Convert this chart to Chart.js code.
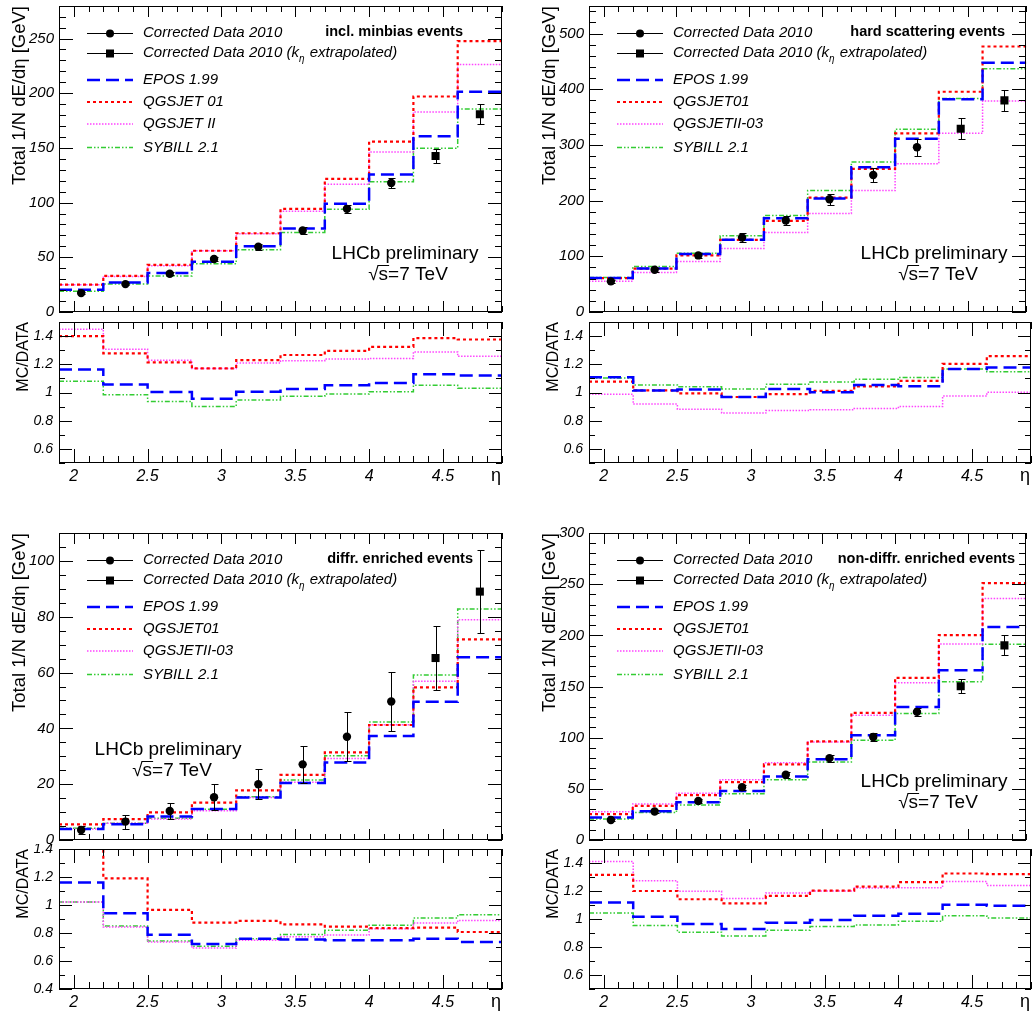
<!DOCTYPE html>
<html>
<head>
<meta charset="utf-8">
<title>LHCb energy flow vs eta</title>
<script src="https://cdn.jsdelivr.net/npm/chart.js@4.4.1/dist/chart.umd.min.js"></script>
<style>
  body { margin: 0; background: #fff; }
  #wrap { position: relative; width: 1032px; height: 1014px; overflow: hidden; }
  #wrap canvas { position: absolute; }
</style>
</head>
<body>
<div id="wrap"></div>
<script>
/* ============================================
   Energy flow per eta bin, 4 event classes,
   each with an MC/DATA ratio pad underneath.
   ============================================ */

// ---- binning / axis ticks ----
const binEdges   = [1.9, 2.2, 2.5, 2.8, 3.1, 3.4, 3.7, 4.0, 4.3, 4.6, 4.9];
const binCenters = [2.05, 2.35, 2.65, 2.95, 3.25, 3.55, 3.85, 4.15, 4.45, 4.75];
const etaTicks   = [2, 2.5, 3, 3.5, 4, 4.5];
const extrapolatedFrom = 4.3; // points above this eta are k_eta extrapolated

const minbiasTicks  = [0, 50, 100, 150, 200, 250];
const hardTicks     = [0, 100, 200, 300, 400, 500];
const diffrTicks    = [0, 20, 40, 60, 80, 100];
const nondiffrTicks = [0, 50, 100, 150, 200, 250, 300];
const ratioTicks      = [0.6, 0.8, 1, 1.2, 1.4];
const diffrRatioTicks = [0.4, 0.6, 0.8, 1, 1.2, 1.4];

// ---- incl. minbias ----
const minbiasData   = [17.3, 25.5, 35.0, 48.4, 59.6, 74.5, 94.3, 118.0, 142.6, 180.7];
const minbiasErr    = [1.0, 1.2, 1.5, 2.0, 2.5, 3.0, 3.5, 4.3, 6.0, 9.0];
const minbiasEpos   = [20.4, 27.0, 35.6, 46.0, 60.0, 76.3, 99.0, 125.6, 160.6, 201.3];
const minbiasQgs01  = [25.0, 33.0, 43.0, 56.0, 72.0, 94.3, 121.7, 155.7, 197.0, 247.6];
const minbiasQgs2   = [25.0, 32.5, 42.3, 56.0, 71.5, 92.0, 116.8, 146.3, 182.8, 226.3];
const minbiasSybill = [18.9, 25.5, 33.0, 44.0, 57.0, 72.7, 94.0, 119.0, 149.6, 185.5];
const minbiasRatioEpos   = [1.164, 1.056, 1.004, 0.956, 1.006, 1.025, 1.051, 1.068, 1.130, 1.120];
const minbiasRatioQgs01  = [1.400, 1.278, 1.214, 1.171, 1.230, 1.266, 1.295, 1.324, 1.386, 1.376];
const minbiasRatioQgs2   = [1.448, 1.307, 1.228, 1.171, 1.209, 1.226, 1.238, 1.242, 1.288, 1.257];
const minbiasRatioSybill = [1.080, 0.984, 0.937, 0.901, 0.946, 0.973, 0.989, 1.006, 1.051, 1.030];

// ---- hard scattering ----
const hardData   = [55.0, 75.9, 101.6, 133.8, 164.3, 202.5, 246.0, 295.7, 329.0, 380.0];
const hardErr    = [3, 4, 5, 8, 8, 10, 12, 15, 19, 19];
const hardEpos   = [61.0, 78.0, 104.0, 129.6, 168.5, 203.7, 259.9, 311.0, 382.0, 447.4];
const hardQgs01  = [61.0, 78.0, 101.6, 129.6, 163.7, 205.5, 257.0, 320.8, 395.5, 476.7];
const hardQgs2   = [55.0, 71.0, 90.8, 114.0, 142.8, 176.8, 218.0, 266.4, 320.8, 378.7];
const hardSybill = [62.0, 81.8, 105.7, 136.8, 173.2, 218.0, 269.4, 328.0, 383.5, 436.7];
const hardRatioEpos   = [1.108, 1.015, 1.022, 0.968, 1.025, 1.001, 1.053, 1.044, 1.167, 1.177];
const hardRatioQgs01  = [1.077, 1.015, 0.994, 0.968, 0.989, 1.011, 1.044, 1.082, 1.203, 1.258];
const hardRatioQgs2   = [0.987, 0.918, 0.882, 0.854, 0.873, 0.878, 0.887, 0.901, 0.975, 1.001];
const hardRatioSybill = [1.103, 1.053, 1.041, 1.025, 1.058, 1.075, 1.094, 1.106, 1.167, 1.148];

// ---- diffr. enriched ----
const diffrData   = [3.6, 6.6, 10.4, 15.3, 20.0, 27.1, 37.0, 49.6, 65.2, 89.0];
const diffrErr    = [1.5, 2.5, 2.7, 4.6, 5.4, 6.6, 8.8, 10.5, 11.5, 15.0];
const diffrEpos   = [3.9, 5.6, 8.4, 11.1, 15.2, 20.4, 27.8, 37.3, 49.5, 65.5];
const diffrQgs01  = [5.6, 7.5, 9.9, 13.4, 17.8, 23.3, 31.4, 41.2, 54.7, 71.9];
const diffrQgs2   = [3.9, 6.0, 7.5, 10.5, 15.2, 20.7, 29.2, 41.3, 56.9, 78.9];
const diffrSybill = [4.2, 6.0, 7.8, 11.0, 15.5, 21.5, 30.2, 42.3, 59.1, 82.8];
const diffrRatioEpos   = [1.161, 0.941, 0.788, 0.721, 0.759, 0.754, 0.749, 0.749, 0.759, 0.735];
const diffrRatioQgs01  = [1.550, 1.190, 0.965, 0.874, 0.886, 0.862, 0.845, 0.835, 0.838, 0.807];
const diffrRatioQgs2   = [1.022, 0.843, 0.735, 0.692, 0.749, 0.773, 0.785, 0.831, 0.871, 0.890];
const diffrRatioSybill = [1.022, 0.850, 0.742, 0.706, 0.759, 0.790, 0.819, 0.855, 0.907, 0.931];

// ---- non-diffr. enriched ----
const nondiffrData   = [19.6, 27.8, 38.2, 51.6, 63.7, 80.0, 100.7, 125.2, 150.3, 190.2];
const nondiffrErr    = [1.2, 1.5, 2.0, 2.5, 3.0, 3.5, 3.5, 4.2, 6.9, 9.8];
const nondiffrEpos   = [21.9, 28.1, 36.9, 48.0, 62.0, 79.0, 102.3, 130.0, 166.0, 208.2];
const nondiffrQgs01  = [25.2, 33.3, 43.8, 56.5, 73.9, 96.4, 124.2, 158.5, 200.3, 251.0];
const nondiffrQgs2   = [27.5, 35.3, 45.8, 58.8, 75.5, 95.8, 121.9, 153.6, 191.5, 236.0];
const nondiffrSybill = [20.6, 26.8, 34.3, 45.1, 58.8, 76.1, 97.4, 123.5, 154.6, 191.2];
const nondiffrRatioEpos   = [1.118, 1.016, 0.965, 0.929, 0.974, 0.993, 1.024, 1.038, 1.101, 1.094];
const nondiffrRatioQgs01  = [1.315, 1.200, 1.141, 1.111, 1.165, 1.202, 1.231, 1.264, 1.325, 1.320];
const nondiffrRatioQgs2   = [1.410, 1.273, 1.198, 1.146, 1.186, 1.200, 1.221, 1.224, 1.268, 1.240];
const nondiffrRatioSybill = [1.042, 0.953, 0.906, 0.878, 0.920, 0.946, 0.958, 0.984, 1.024, 1.007];

const labelsV1 = ['EPOS 1.99', 'QGSJET 01', 'QGSJET II', 'SYBILL 2.1'];
const labelsV2 = ['EPOS 1.99', 'QGSJET01', 'QGSJETII-03', 'SYBILL 2.1'];

// ---- styling ----
const FONT = '"Liberation Sans", Arial, Helvetica, sans-serif';

// EPOS, QGSJET01, QGSJETII, SYBILL
const MODEL_STYLE = [
  { color: '#0000ff', width: 2.5, dash: [13, 6] },
  { color: '#ff0000', width: 2.2, dash: [3, 3] },
  { color: '#ff44ff', width: 1.5, dash: [1.5, 1.5] },
  { color: '#33cc33', width: 1.5, dash: [5, 2, 1.5, 2, 1.5, 2] },
];

const panels = [
  {
    title: 'incl. minbias events', titleRight: 39,
    data: minbiasData, err: minbiasErr,
    models: [minbiasEpos, minbiasQgs01, minbiasQgs2, minbiasSybill],
    ratios: [minbiasRatioEpos, minbiasRatioQgs01, minbiasRatioQgs2, minbiasRatioSybill],
    labels: labelsV1, yTicks: minbiasTicks, yMax: 280, yMinor: 10,
    rTicks: ratioTicks, rMin: 0.5, rMax: 1.5,
    box: { x0: 0, y0: 0, left: 59, right: 502, mainTop: 5, mainBottom: 312, ratioTop: 322, ratioBottom: 463, bottom: 506 },
    lhcb: [405, 254, 408, 275],
  },
  {
    title: 'hard scattering events', titleRight: 21,
    data: hardData, err: hardErr,
    models: [hardEpos, hardQgs01, hardQgs2, hardSybill],
    ratios: [hardRatioEpos, hardRatioQgs01, hardRatioQgs2, hardRatioSybill],
    labels: labelsV2, yTicks: hardTicks, yMax: 550, yMinor: 20,
    rTicks: ratioTicks, rMin: 0.5, rMax: 1.5,
    box: { x0: 516, y0: 0, left: 589, right: 1031, mainTop: 5, mainBottom: 312, ratioTop: 322, ratioBottom: 463, bottom: 506 },
    lhcb: [934, 254, 938, 275],
  },
  {
    title: 'diffr. enriched events', titleRight: 29,
    data: diffrData, err: diffrErr,
    models: [diffrEpos, diffrQgs01, diffrQgs2, diffrSybill],
    ratios: [diffrRatioEpos, diffrRatioQgs01, diffrRatioQgs2, diffrRatioSybill],
    labels: labelsV2, yTicks: diffrTicks, yMax: 110, yMinor: 5,
    rTicks: diffrRatioTicks, rMin: 0.4, rMax: 1.4,
    box: { x0: 0, y0: 520, left: 59, right: 502, mainTop: 533, mainBottom: 840, ratioTop: 849, ratioBottom: 989, bottom: 1014 },
    lhcb: [168, 750, 172, 771],
  },
  {
    title: 'non-diffr. enriched events', titleRight: 11,
    data: nondiffrData, err: nondiffrErr,
    models: [nondiffrEpos, nondiffrQgs01, nondiffrQgs2, nondiffrSybill],
    ratios: [nondiffrRatioEpos, nondiffrRatioQgs01, nondiffrRatioQgs2, nondiffrRatioSybill],
    labels: labelsV2, yTicks: nondiffrTicks, yMax: 300, yMinor: 10,
    rTicks: ratioTicks, rMin: 0.5, rMax: 1.5,
    box: { x0: 516, y0: 520, left: 589, right: 1031, mainTop: 533, mainBottom: 840, ratioTop: 849, ratioBottom: 989, bottom: 1014 },
    lhcb: [934, 782, 938, 803],
  },
];

// legend rows, relative to the top of the main frame
const LEGEND_ROWS = [27, 47, 74, 96, 118, 141.5];

/** Histogram outline: value held from each left edge, closed at the last edge. */
function stepPoints(values) {
  const pts = values.map((v, i) => ({ x: binEdges[i], y: v }));
  pts.push({ x: binEdges[values.length], y: values[values.length - 1] });
  return pts;
}

function modelDatasets(series, labels) {
  return series.map((vals, i) => ({
    label: labels ? labels[i] : '',
    data: stepPoints(vals),
    stepped: 'before',
    borderColor: MODEL_STYLE[i].color,
    borderWidth: MODEL_STYLE[i].width,
    borderDash: MODEL_STYLE[i].dash,
    borderCapStyle: 'butt',
    pointRadius: 0,
    fill: false,
    tension: 0,
    order: 1 + i,
  }));
}

function tickLabel(v) {
  return String(Math.round(v * 100) / 100);
}

/* ---- ROOT-like frame, inner ticks, texts ---- */
function minorValues(min, max, step, majors) {
  const out = [];
  for (let k = Math.ceil(min / step - 1e-6); k * step <= max + 1e-9; k++) {
    const v = k * step;
    if (!majors.some(m => Math.abs(m - v) < step * 1e-3)) out.push(v);
  }
  return out;
}

function drawSqrtS(ctx, cx, cy, size) {
  ctx.font = `${size}px ${FONT}`;
  const root = '\u221A', rest = 's=7 TeV';
  const wr = ctx.measureText(root).width;
  const ws = ctx.measureText('s').width;
  const w = wr + ctx.measureText(rest).width;
  const x = cx - w / 2;
  ctx.textAlign = 'left';
  ctx.textBaseline = 'middle';
  ctx.fillText(root, x, cy);
  ctx.fillText(rest, x + wr, cy);
  ctx.lineWidth = 1;
  ctx.beginPath();
  ctx.moveTo(x + wr - 1, Math.round(cy - size * 0.55) + 0.5);
  ctx.lineTo(x + wr + ws + 1, Math.round(cy - size * 0.55) + 0.5);
  ctx.stroke();
}

function drawLegend(ctx, lg) {
  const { x0, x1, tx, rows, labels } = lg;
  ctx.textAlign = 'left';
  ctx.textBaseline = 'middle';
  ctx.fillStyle = '#000';
  ctx.strokeStyle = '#000';
  // data rows
  [0, 1].forEach(r => {
    const y = Math.round(rows[r]) + 0.5;
    ctx.lineWidth = 1;
    ctx.setLineDash([]);
    ctx.beginPath(); ctx.moveTo(x0, y); ctx.lineTo(x1, y); ctx.stroke();
    const mx = (x0 + x1) / 2;
    ctx.beginPath();
    if (r === 0) ctx.arc(mx, y, 4, 0, Math.PI * 2);
    else ctx.rect(mx - 4, y - 4, 8, 8);
    ctx.fill();
  });
  ctx.font = `italic 15px ${FONT}`;
  ctx.fillText('Corrected Data 2010', tx, rows[0]);
  const s1 = 'Corrected Data 2010 (k';
  ctx.fillText(s1, tx, rows[1]);
  let w = ctx.measureText(s1).width;
  ctx.font = `italic 10px ${FONT}`;
  ctx.fillText('\u03B7', tx + w, rows[1] + 6);
  w += ctx.measureText('\u03B7').width + 1;
  ctx.font = `italic 15px ${FONT}`;
  ctx.fillText(' extrapolated)', tx + w, rows[1]);
  // model rows
  labels.forEach((lab, i) => {
    const st = MODEL_STYLE[i];
    const y = rows[2 + i];
    ctx.strokeStyle = st.color;
    ctx.lineWidth = st.width;
    ctx.setLineDash(st.dash);
    ctx.beginPath(); ctx.moveTo(x0, y); ctx.lineTo(x1, y); ctx.stroke();
    ctx.setLineDash([]);
    ctx.fillText(lab, tx, y);
  });
}

const rootDecor = {
  id: 'rootDecor',
  beforeDatasetDraw(chart, args) {
    const ds = chart.data.datasets[args.index];
    if (!ds.errors) return;
    const { ctx, scales: { x, y } } = chart;
    ctx.save();
    ctx.strokeStyle = '#000';
    ctx.lineWidth = 1;
    ctx.beginPath();
    ds.data.forEach((pt, i) => {
      const px = Math.round(x.getPixelForValue(pt.x)) + 0.5;
      const lo = Math.round(y.getPixelForValue(pt.y - ds.errors[i])) + 0.5;
      const hi = Math.round(y.getPixelForValue(pt.y + ds.errors[i])) + 0.5;
      ctx.moveTo(px, lo); ctx.lineTo(px, hi);
      ctx.moveTo(px - 3, lo); ctx.lineTo(px + 4, lo);
      ctx.moveTo(px - 3, hi); ctx.lineTo(px + 4, hi);
    });
    ctx.stroke();
    ctx.restore();
  },
  afterDraw(chart, args, o) {
    const { ctx, chartArea: a, scales: { x, y } } = chart;
    const offX = chart.canvas.offsetLeft, offY = chart.canvas.offsetTop;
    const L = Math.round(a.left), R = Math.round(a.right), T = Math.round(a.top), B = Math.round(a.bottom);
    ctx.save();
    ctx.strokeStyle = '#000';
    ctx.lineWidth = 1;
    ctx.setLineDash([]);
    ctx.beginPath();
    // x ticks, bottom and top
    const xMaj = etaTicks;
    const xMin = minorValues(x.min, x.max, 0.1, xMaj);
    [[xMaj, o.xLen[0]], [xMin, o.xLen[1]]].forEach(([vals, len]) => {
      vals.forEach(v => {
        const px = Math.round(x.getPixelForValue(v)) + 0.5;
        ctx.moveTo(px, B); ctx.lineTo(px, B - len);
        ctx.moveTo(px, T); ctx.lineTo(px, T + len);
      });
    });
    // y ticks, left and right
    const yMaj = o.yTicks;
    const yMin = minorValues(y.min, y.max, o.yMinor, yMaj);
    [[yMaj, o.yLen[0]], [yMin, o.yLen[1]]].forEach(([vals, len]) => {
      vals.forEach(v => {
        const py = Math.round(y.getPixelForValue(v)) + 0.5;
        ctx.moveTo(L, py); ctx.lineTo(L + len, py);
        ctx.moveTo(R, py); ctx.lineTo(R - len, py);
      });
    });
    ctx.stroke();
    ctx.strokeRect(L + 0.5, T + 0.5, R - L - 1, B - T - 1);

    ctx.fillStyle = '#000';
    // y axis title, aligned to the top of the frame
    if (o.yTitle) {
      ctx.save();
      ctx.translate(o.yTitle.x - offX, T);
      ctx.rotate(-Math.PI / 2);
      ctx.font = `${o.yTitle.size}px ${FONT}`;
      ctx.textAlign = 'right';
      ctx.textBaseline = 'middle';
      ctx.fillText(o.yTitle.text, 0, 0);
      ctx.restore();
    }
    if (o.xTitle) {
      ctx.font = `18px ${FONT}`;
      ctx.textAlign = 'right';
      ctx.textBaseline = 'alphabetic';
      ctx.fillText('\u03B7', R - 1, B + 18);
    }
    if (o.title) {
      ctx.font = `bold 14.5px ${FONT}`;
      ctx.textAlign = 'right';
      ctx.textBaseline = 'middle';
      ctx.fillText(o.title, R - o.titleRight, T + 26);
    }
    if (o.lhcb) {
      const [x1, y1, x2, y2] = o.lhcb;
      ctx.font = `19px ${FONT}`;
      ctx.textAlign = 'center';
      ctx.textBaseline = 'middle';
      ctx.fillText('LHCb preliminary', x1 - offX, y1 - offY);
      drawSqrtS(ctx, x2 - offX, y2 - offY, 19);
    }
    if (o.legend) {
      drawLegend(ctx, {
        x0: L + 28, x1: L + 74, tx: L + 84,
        rows: LEGEND_ROWS.map(r => T + r),
        labels: o.legend,
      });
    }
    ctx.restore();
  },
};

/* ---- chart construction ---- */
const wrap = document.getElementById('wrap');

function addCanvas(left, top, width, height) {
  const c = document.createElement('canvas');
  c.width = width;
  c.height = height;
  c.style.left = left + 'px';
  c.style.top = top + 'px';
  c.style.width = width + 'px';
  c.style.height = height + 'px';
  wrap.appendChild(c);
  return c;
}

function padChart(canvas, lay, cfg) {
  return new Chart(canvas, {
    type: 'line',
    data: { datasets: cfg.datasets },
    options: {
      responsive: false,
      animation: false,
      events: [],
      layout: { padding: { top: lay.padTop, right: lay.padRight, left: 0, bottom: 0 } },
      plugins: {
        legend: { display: false },
        tooltip: { enabled: false },
        rootDecor: cfg.decor,
      },
      scales: {
        x: {
          type: 'linear', min: 1.9, max: 4.9,
          grid: { display: false, drawTicks: false },
          border: { display: false },
          afterBuildTicks: s => { s.ticks = etaTicks.map(v => ({ value: v })); },
          afterFit: s => { s.height = lay.xHeight; s.paddingLeft = 0; s.paddingRight = 0; },
          ticks: {
            display: cfg.showX, padding: 4, autoSkip: false, maxRotation: 0, color: '#000',
            callback: tickLabel,
            font: { family: FONT, size: 16, style: 'italic' },
          },
        },
        y: {
          type: 'linear', min: cfg.yMin, max: cfg.yMax,
          grid: { display: false, drawTicks: false },
          border: { display: false },
          afterBuildTicks: s => { s.ticks = cfg.yTicks.map(v => ({ value: v })); },
          afterFit: s => { s.width = lay.yWidth; s.paddingTop = 0; s.paddingBottom = 0; },
          ticks: {
            padding: cfg.yPad, autoSkip: false, color: '#000',
            callback: tickLabel,
            font: { family: FONT, size: cfg.yFont, style: 'italic' },
          },
        },
      },
    },
    plugins: [rootDecor],
  });
}

panels.forEach(p => {
  const b = p.box;
  const W = 516;

  // main pad
  const mTop = b.y0, mH = b.mainBottom + 8 - b.y0;
  const mainDatasets = modelDatasets(p.models, p.labels);
  mainDatasets.push({
    type: 'scatter',
    data: binCenters.map((c, i) => ({ x: c, y: p.data[i] })),
    errors: p.err,
    showLine: false,
    backgroundColor: '#000',
    borderColor: '#000',
    borderWidth: 0,
    pointStyle: ctx => (ctx.raw && ctx.raw.x > extrapolatedFrom ? 'rect' : 'circle'),
    pointRadius: ctx => (ctx.raw && ctx.raw.x > extrapolatedFrom ? 5.7 : 4.2),
    order: 0,
  });
  padChart(addCanvas(b.x0, mTop, W, mH), {
    padTop: b.mainTop - mTop, padRight: b.x0 + W - b.right,
    yWidth: b.left - b.x0, xHeight: mH - (b.mainBottom - mTop),
  }, {
    datasets: mainDatasets, showX: false,
    yMin: 0, yMax: p.yMax, yTicks: p.yTicks, yPad: 5, yFont: 15,
    decor: {
      xLen: [11, 6], yLen: [14, 7], yTicks: p.yTicks, yMinor: p.yMinor,
      yTitle: { text: 'Total 1/N dE/d\u03B7 [GeV]', x: b.left - 39, size: 18.5 },
      title: p.title, titleRight: p.titleRight,
      lhcb: p.lhcb, legend: p.labels,
    },
  });

  // ratio pad
  const rTop = b.mainBottom + 4, rH = b.bottom - rTop;
  padChart(addCanvas(b.x0, rTop, W, rH), {
    padTop: b.ratioTop - rTop, padRight: b.x0 + W - b.right,
    yWidth: b.left - b.x0, xHeight: rH - (b.ratioBottom - rTop),
  }, {
    datasets: modelDatasets(p.ratios, null), showX: true,
    yMin: p.rMin, yMax: p.rMax, yTicks: p.rTicks, yPad: 6, yFont: 14,
    decor: {
      xLen: [14, 7], yLen: [13, 6], yTicks: p.rTicks, yMinor: 0.1,
      yTitle: { text: 'MC/DATA', x: b.left - 35, size: 16 },
      xTitle: true,
    },
  });
});
</script>
</body>
</html>
